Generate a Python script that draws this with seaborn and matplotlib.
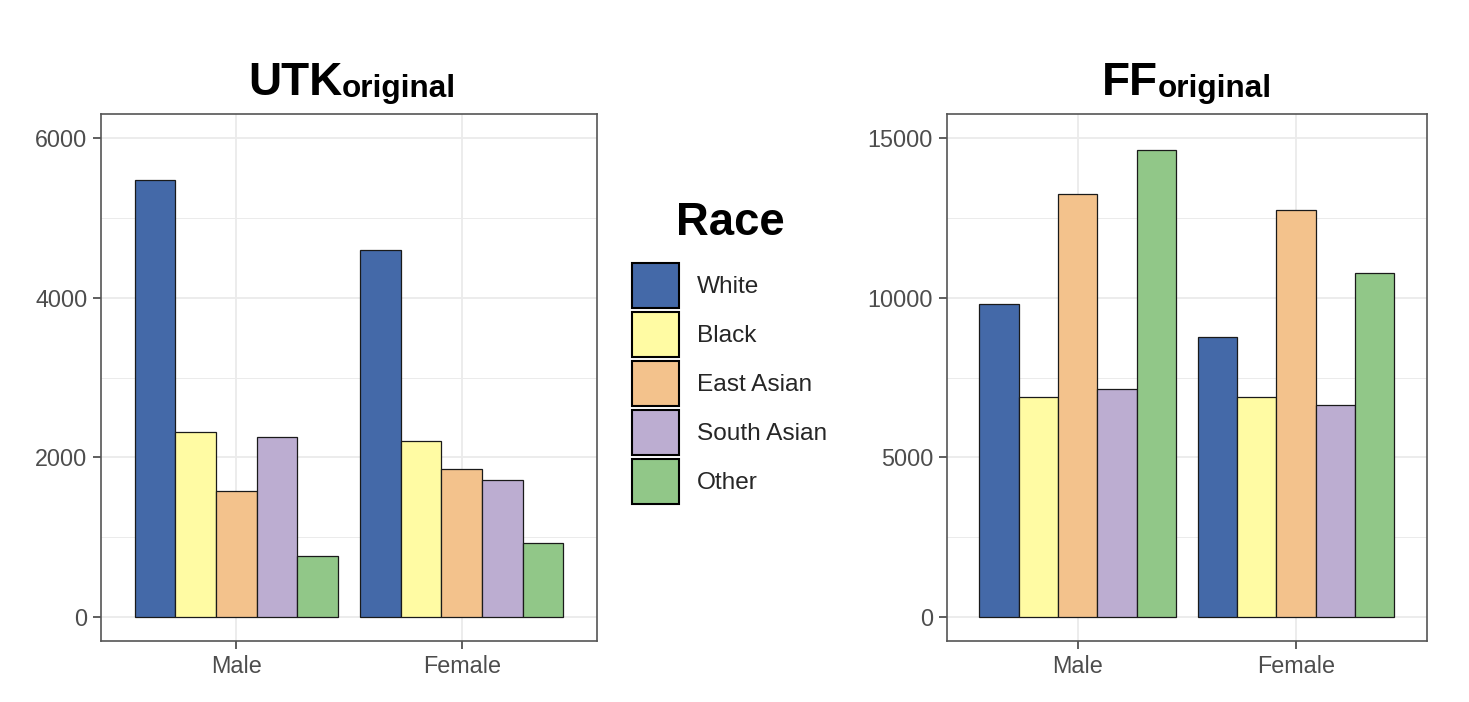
import numpy as np
import pandas as pd
import matplotlib
matplotlib.use("Agg")
import matplotlib.pyplot as plt
import seaborn as sns
from matplotlib.patches import Patch
from matplotlib.ticker import MultipleLocator

# ---- data ----
genders = ["Male", "Female"]
races = ["White", "Black", "East Asian", "South Asian", "Other"]
colors = ["#4469A8", "#FFFBA3", "#F3C28C", "#BCADD1", "#91C788"]

utk_male = [5475, 2312, 1575, 2260, 760]
utk_female = [4600, 2208, 1860, 1712, 930]
ff_male = [9800, 6877, 13240, 7145, 14610]
ff_female = [8760, 6877, 12740, 6648, 10777]

sns.set_theme(style="white")
plt.rcParams['font.family'] = ['Liberation Sans', 'DejaVu Sans']

W, H = 1469, 702
fig = plt.figure(figsize=(W / 100, H / 100), dpi=100)


def ax_rect(x0, x1, y0, y1):
    return [x0 / W, 1 - y1 / H, (x1 - x0) / W, (y1 - y0) / H]


ax1 = fig.add_axes(ax_rect(101, 597, 114, 641))
ax2 = fig.add_axes(ax_rect(946.7, 1427, 114, 641))


def to_long(male, female):
    rows = []
    for g, vals in zip(genders, [male, female]):
        for r, v in zip(races, vals):
            rows.append((g, r, v))
    return pd.DataFrame(rows, columns=["Gender", "Race", "Count"])


panels = [
    (ax1, utk_male, utk_female, 6000, 2000, 1000),
    (ax2, ff_male, ff_female, 15000, 5000, 2500),
]

for ax, male, female, ymax, major, minor in panels:
    df = to_long(male, female)
    sns.barplot(data=df, x="Gender", y="Count", hue="Race", order=genders,
                hue_order=races, palette=colors, width=0.9, saturation=1,
                edgecolor="#1a1a1a", linewidth=0.9, legend=False, ax=ax,
                errorbar=None)
    ax.set_xlim(-0.6, 1.6)
    ax.set_ylim(-0.05 * ymax, 1.05 * ymax)
    ax.yaxis.set_major_locator(MultipleLocator(major))
    ax.yaxis.set_minor_locator(MultipleLocator(minor))
    ax.grid(which='major', color='#EBEBEB', lw=1.3)
    ax.yaxis.grid(which='minor', color='#EBEBEB', lw=0.7)
    ax.xaxis.grid(which='major', color='#EBEBEB', lw=1.3)
    ax.set_axisbelow(True)
    ax.set_xlabel("")
    ax.set_ylabel("")
    ax.tick_params(axis='both', which='major', bottom=True, left=True,
                   length=5.8, width=1.1, color='#333333', labelsize=16.8,
                   labelcolor='#4D4D4D', pad=4)
    ax.tick_params(axis='both', which='minor', length=0)
    for s in ax.spines.values():
        s.set_visible(True)
        s.set_color('#555555')
        s.set_linewidth(1.2)


# ---- titles (big bold + smaller bold suffix) ----
renderer = fig.canvas.get_renderer()


def title(center_px, big, small):
    t1 = fig.text(0, 0, big, fontsize=33, fontweight='bold', ha='left',
                  va='baseline', color='black')
    t2 = fig.text(0, 0, small, fontsize=22.7, fontweight='bold', ha='left',
                  va='baseline', color='black')
    w1 = t1.get_window_extent(renderer).width
    w2 = t2.get_window_extent(renderer).width
    x0 = center_px - (w1 + w2) / 2
    t1.set_position((x0 / W, 1 - 95 / H))
    t2.set_position(((x0 + w1) / W, 1 - 97 / H))


title(352, "UTK", "original")
title(1187, "FF", "original")

# ---- legend ----
handles = [Patch(facecolor=c, edgecolor='black', linewidth=1.5) for c in colors]
fs = 17.6
leg = fig.legend(handles, races, loc='upper left',
                 bbox_to_anchor=(632 / W, 1 - 263 / H), frameon=False,
                 borderpad=0, borderaxespad=0, prop={'size': fs},
                 handlelength=1.92, handleheight=2.449, labelspacing=0.17,
                 handletextpad=0.73)
fig.text(730.5 / W, 1 - 235 / H, "Race", fontsize=32.8, fontweight='bold',
         ha='center', va='baseline', color='black')

fig.savefig("out.png", dpi=100, facecolor='white')
